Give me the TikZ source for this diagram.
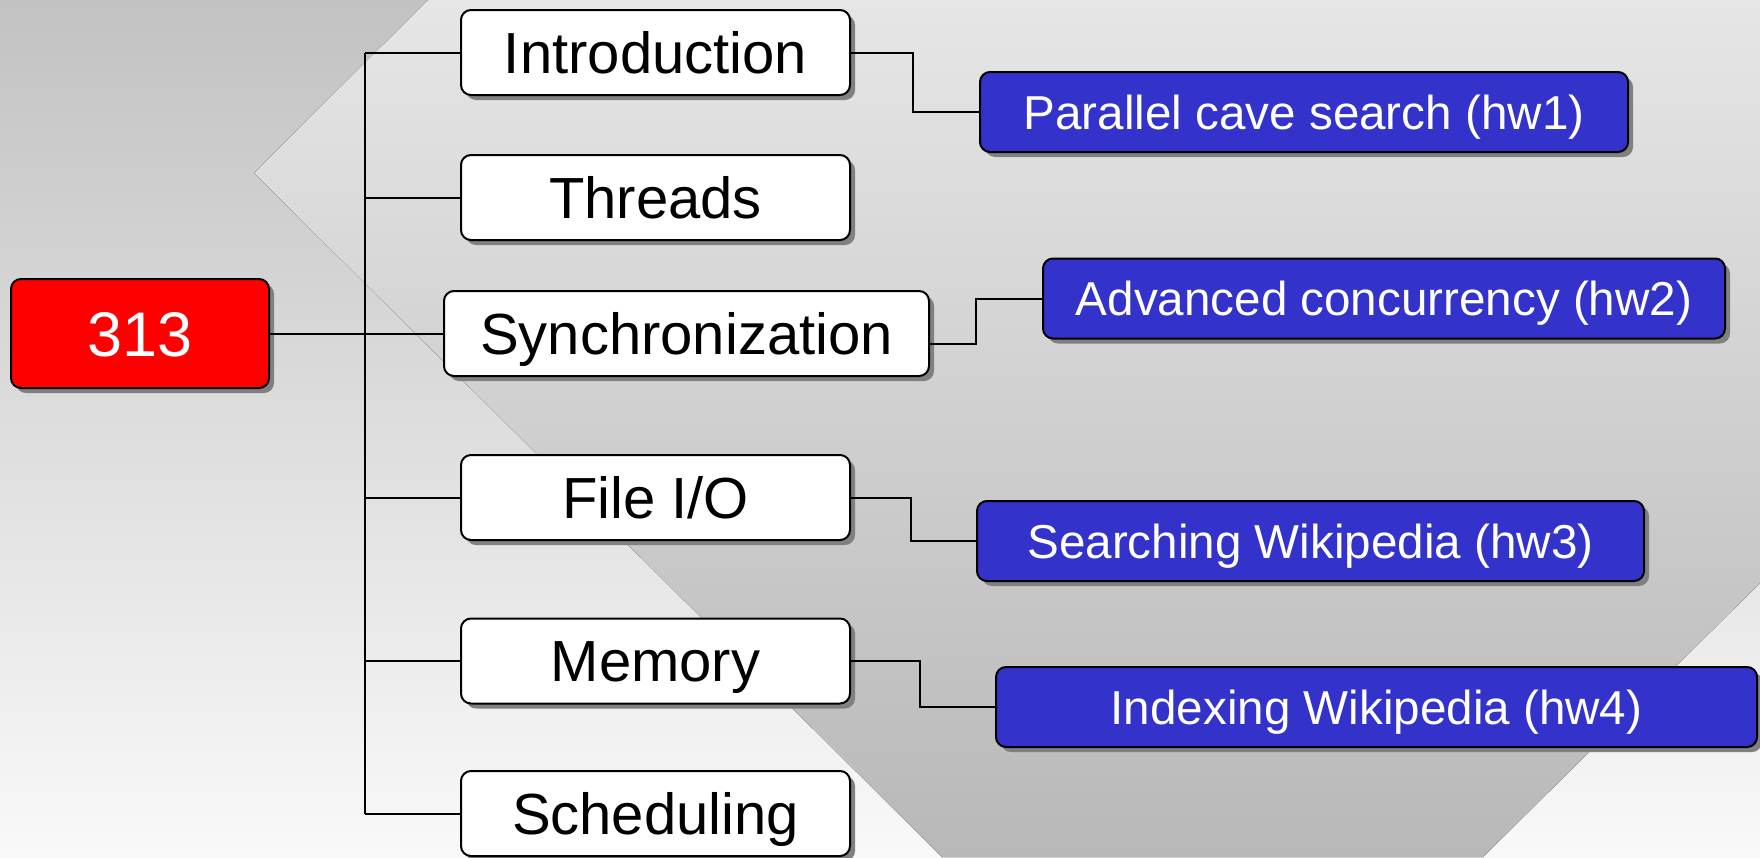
\documentclass[tikz,border=0pt]{standalone}
\usepackage{fontspec}
\setmainfont{Liberation Sans}
\usetikzlibrary{positioning, calc, shadows}

\definecolor{bgtop}{HTML}{C2C2C2}
\definecolor{bgbottom}{HTML}{F9F9F9}
\definecolor{bandtop}{HTML}{E6E6E6}
\definecolor{bandbottom}{HTML}{B8B8B8}
\definecolor{hwblue}{HTML}{3333CC}

\tikzset{
    box/.style={draw, line width=1pt, rounded corners=5pt, inner sep=0pt,
        drop shadow={shadow xshift=2.5pt, shadow yshift=-2.5pt, opacity=1, fill=black!50}},
    topic/.style={box, fill=white, minimum width=194.5pt, minimum height=42.5pt,
        font=\fontsize{29}{34}\selectfont, text height=20.8pt, text depth=0pt},
    hw/.style={box, fill=hwblue, text=white, minimum height=40pt,
        font=\fontsize{23.8}{28}\selectfont, text height=17pt, text depth=0pt},
    link/.style={line width=1pt},
}

\begin{document}
\begin{tikzpicture}[x=0.5pt, y=-0.5pt]
    \useasboundingbox (0,0) rectangle (1760,857);
    \fill[top color=bgtop, bottom color=bgbottom] (0,0) rectangle (1760,857);
    \fill[top color=bandtop, bottom color=bandbottom]
        (428,0) -- (254,173) -- (942,857) -- (1483,857) -- (1760,583) -- (1760,0) -- cycle;

    \node[box, fill=red, text=white, minimum width=129pt, minimum height=54.5pt,
        font=\fontsize{31.5}{36}\selectfont, text height=22.6pt, text depth=0pt] (root) at (140,333.5) {313};

    \node[topic] (intro) at (655.5,52.5) {Introduction};
    \node[topic] (threads) at (655.5,197.5) {Threads};
    \node[topic, minimum width=242.5pt] (sync) at (686.5,333.5) {Synchronization};
    \node[topic] (fileio) at (655.5,497.5) {File I/O};
    \node[topic] (memory) at (655.5,661) {Memory};
    \node[topic] (sched) at (655.5,813.5) {Scheduling};

    \node[hw, minimum width=324pt] (hw1) at (1304,112) {Parallel cave search (hw1)};
    \node[hw, minimum width=341pt] (hw2) at (1384,298.5) {Advanced concurrency (hw2)};
    \node[hw, minimum width=333.5pt] (hw3) at (1310.5,541) {Searching Wikipedia (hw3)};
    \node[hw, minimum width=380.5pt] (hw4) at (1376.5,707) {Indexing Wikipedia (hw4)};

    \coordinate (trunk) at (364.5,333.5);
    \draw[link] (root.east) -- (trunk);
    \draw[link] (trunk |- intro.west) -- (trunk |- sched.west);
    \foreach \t in {intro, threads, sync, fileio, memory, sched}
        \draw[link] (trunk |- \t.west) -- (\t.west);

    \draw[link] (intro.east) -- ++(62,0) |- (hw1.west);
    \draw[link] ([yshift=-5pt]sync.east) -- ++(46,0) |- (hw2.west);
    \draw[link] (fileio.east) -- ++(60,0) |- (hw3.west);
    \draw[link] (memory.east) -- ++(69,0) |- (hw4.west);

\end{tikzpicture}
\end{document}
